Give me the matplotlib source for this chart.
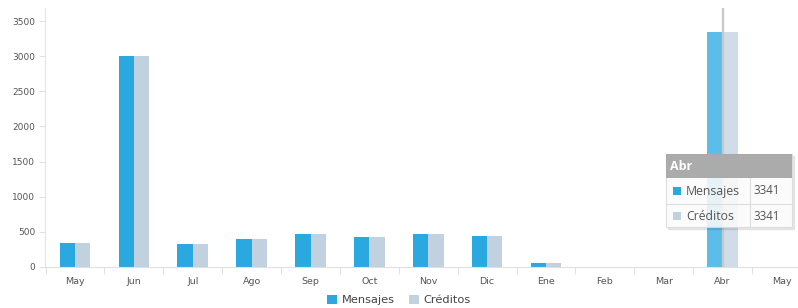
import numpy as np
import matplotlib.pyplot as plt
from matplotlib.patches import Rectangle

months = ['May', 'Jun', 'Jul', 'Ago', 'Sep', 'Oct', 'Nov', 'Dic', 'Ene', 'Feb', 'Mar', 'Abr', 'May']
mensajes = [337, 3000, 323, 394, 465, 427, 465, 441, 52, 0, 0, 3341, 0]
creditos = [337, 3000, 323, 394, 465, 427, 465, 441, 52, 0, 0, 3341, 0]
yticks = [0, 500, 1000, 1500, 2000, 2500, 3000, 3500]
hover = 11  # Abr

W, H = 798, 308
fig = plt.figure(figsize=(W / 100, H / 100), dpi=100)
ax = fig.add_axes([45 / W, (H - 267) / H, (W - 45) / W, (267 - 8) / H])

c_msg = '#2aa8e0'
c_cred = '#c1d1df'
c_msg_h = '#5cbde8'
c_cred_h = '#d0dce7'

x = np.arange(len(months))
bw = 0.26
cm = [c_msg_h if i == hover else c_msg for i in x]
cc = [c_cred_h if i == hover else c_cred for i in x]
ax.bar(x - bw / 2, mensajes, bw, color=cm, label='Mensajes', zorder=2)
ax.bar(x + bw / 2, creditos, bw, color=cc, label='Créditos', zorder=2)

ax.set_yticks(yticks)
ax.set_xticks(x)
ax.set_xticklabels(months)
ax.set_xticks(np.arange(-0.5, 13, 1), minor=True)
ax.set_xlim(-0.51, 12.28)
ax.set_ylim(0, 3685)
ax.tick_params(axis='x', which='major', length=0, labelsize=6.8, labelcolor='#555555', pad=7)
ax.tick_params(axis='x', which='minor', length=5, color='#e0e0e0', width=0.8)
ax.tick_params(axis='y', length=4, color='#e0e0e0', width=0.8, labelsize=6.5, labelcolor='#555555', pad=3)
for s in ['top', 'right']:
    ax.spines[s].set_visible(False)
ax.spines['left'].set_color('#e6e6e6')
ax.spines['bottom'].set_color('#e0e0e0')
ax.spines['left'].set_linewidth(0.8)
ax.spines['bottom'].set_linewidth(0.8)

# crosshair on hovered month
ax.axvline(hover, color='#c8c8c8', lw=1.6, zorder=3)

leg = fig.legend(loc='lower center', bbox_to_anchor=(0.5, -0.025), ncol=2, frameon=False,
                 fontsize=8.2, handlelength=0.9, handleheight=0.9, handletextpad=0.4,
                 columnspacing=1.2)
for t in leg.get_texts():
    t.set_color('#444444')

# tooltip box (figure pixel coords)
def fx(px):
    return px / W

def fy(py):
    return 1 - py / H

tl, tr, tt, tb = 666, 792, 154, 227
hb, rowdiv, coldiv = 178, 204, 750
fig.patches.append(Rectangle((fx(tl + 2), fy(tb + 2)), fx(tr - tl), (tb - tt) / H,
                             transform=fig.transFigure, color='#000000', alpha=0.08, zorder=5))
fig.patches.append(Rectangle((fx(tl), fy(tb)), fx(tr - tl), (tb - tt) / H,
                             transform=fig.transFigure, facecolor='white', alpha=0.85,
                             edgecolor='#d8d8d8', lw=0.8, zorder=6))
fig.patches.append(Rectangle((fx(tl), fy(hb)), fx(tr - tl), (hb - tt) / H,
                             transform=fig.transFigure, facecolor='#a7a7a7', alpha=0.95,
                             edgecolor='none', zorder=7))
fig.lines.append(plt.Line2D([fx(tl), fx(tr)], [fy(rowdiv), fy(rowdiv)], transform=fig.transFigure,
                            color='#dddddd', lw=0.8, zorder=7))
fig.lines.append(plt.Line2D([fx(coldiv), fx(coldiv)], [fy(hb), fy(tb)], transform=fig.transFigure,
                            color='#dddddd', lw=0.8, zorder=7))
fig.text(fx(670), fy((tt + hb) / 2), months[hover], color='white', fontsize=9, fontweight='bold',
         va='center', ha='left', family='Open Sans', zorder=8)
rows = [('Mensajes', mensajes[hover], c_msg, 191), ('Créditos', creditos[hover], c_cred, 216)]
for name, val, col, yc in rows:
    fig.patches.append(Rectangle((fx(673), fy(yc + 4)), 8 / W, 8 / H, transform=fig.transFigure,
                                 facecolor=col, edgecolor='none', zorder=8))
    fig.text(fx(686), fy(yc), name, color='#555555', fontsize=8.8, va='center', ha='left',
             family='Open Sans', zorder=8)
    fig.text(fx(753), fy(yc), str(val), color='#555555', fontsize=8.3, va='center', ha='left',
             family='Open Sans', zorder=8)

fig.savefig('out.png', dpi=100)
